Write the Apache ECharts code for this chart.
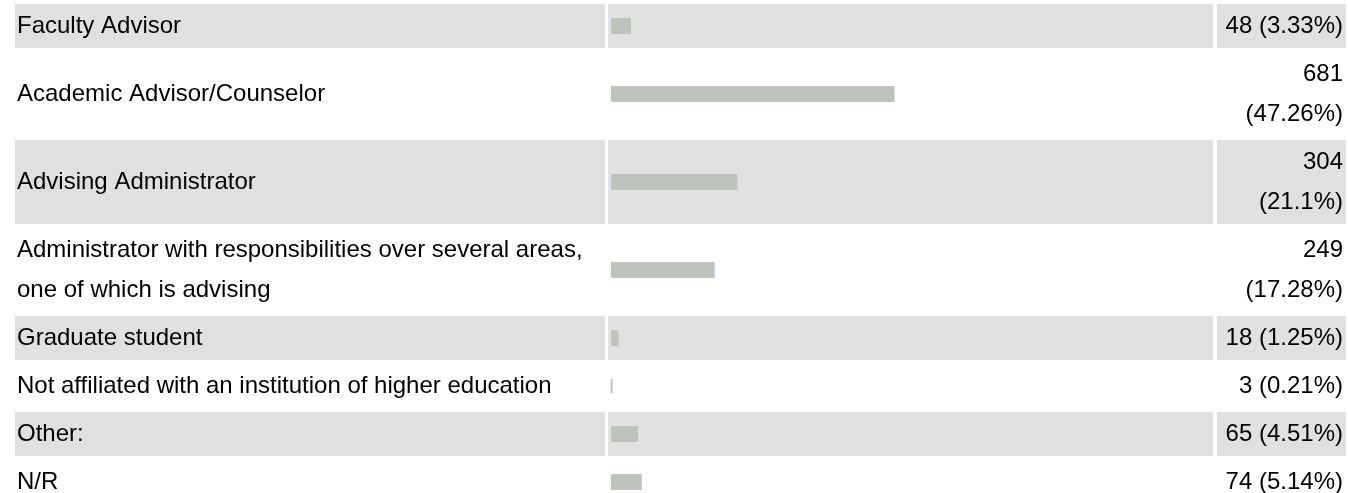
<!DOCTYPE html>
<html>
<head>
<meta charset="utf-8">
<script src="https://cdn.jsdelivr.net/npm/echarts@6/dist/echarts.min.js"></script>
<style>
    html, body { margin: 0; padding: 0; background: #fff; overflow: hidden; }
    /* taller than the window so the last row is not squeezed */
    #chart { width: 1348px; height: 520px; }
</style>
</head>
<body>
<div id="chart"></div>
<script>
// data
const categories = [
    'Faculty Advisor',
    'Academic Advisor/Counselor',
    'Advising Administrator',
    'Administrator with responsibilities over several areas, one of which is advising',
    'Graduate student',
    'Not affiliated with an institution of higher education',
    'Other:',
    'N/R'
]
const counts = [48, 681, 304, 249, 18, 3, 65, 74]
const percents = [3.33, 47.26, 21.1, 17.28, 1.25, 0.21, 4.51, 5.14]

// layout
const fontFamily = '"Liberation Sans", Arial, sans-serif'
const fontSize = 24
const lineHeight = 40
const labelCell = [15, 605]
const barCell = [608, 1213]
const valueCell = [1217, 1346]
const barLeft = 611
const barSpan = 600
const textLeft = 17
const textRight = 1343
const labelWrap = 585
const valueWrap = 126
const rowGap = 4

const ctx = document.createElement('canvas').getContext('2d')
ctx.font = fontSize + 'px ' + fontFamily

// break a text at spaces so each line fits in maxWidth
function wrapText (text, maxWidth) {
    const words = text.split(' ')
    const out = []
    let line = ''
    words.forEach(function (w) {
        const test = line ? line + ' ' + w : w
        if (line && ctx.measureText(test).width > maxWidth) {
            out.push(line)
            line = w
        } else {
            line = test
        }
    })
    out.push(line)
    return out
}

const valueTexts = counts.map(function (c, i) { return c + ' (' + percents[i] + '%)' })

const chart = echarts.init(document.getElementById('chart'))

const grid = []
const xAxis = []
const yAxis = []
const series = []
const graphic = []

let rowTop = 4
categories.forEach(function (name, idx) {
    const nameLines = wrapText(name, labelWrap)
    const valueLines = wrapText(valueTexts[idx], valueWrap)
    const h = Math.max(nameLines.length, valueLines.length) * lineHeight + 4

    // striped rows
    if (idx % 2 === 0) {
        [labelCell, barCell, valueCell].forEach(function (cell) {
            graphic.push({
                type: 'rect',
                z: -10,
                silent: true,
                shape: { x: cell[0], y: rowTop, width: cell[1] - cell[0], height: h },
                style: { fill: '#e0e0e0' }
            })
        })
    }

    grid.push({
        left: barLeft,
        width: barSpan,
        top: rowTop,
        height: h
    })

    xAxis.push({
        type: 'value',
        gridIndex: idx,
        min: 0,
        max: 100,
        show: false
    })

    // left: answer text
    yAxis.push({
        type: 'category',
        gridIndex: idx,
        data: [nameLines.join('\n')],
        axisLine: { show: false },
        axisTick: { show: false },
        splitLine: { show: false },
        axisLabel: {
            align: 'left',
            margin: barLeft - textLeft,
            lineHeight: lineHeight,
            fontSize: fontSize,
            fontFamily: fontFamily,
            color: '#000'
        }
    })
    // right: count (percent)
    yAxis.push({
        type: 'category',
        gridIndex: idx,
        position: 'right',
        data: [valueLines.join('\n')],
        axisLine: { show: false },
        axisTick: { show: false },
        splitLine: { show: false },
        axisLabel: {
            align: 'right',
            margin: textRight - (barLeft + barSpan),
            lineHeight: lineHeight,
            fontSize: fontSize,
            fontFamily: fontFamily,
            color: '#000'
        }
    })

    series.push({
        type: 'bar',
        xAxisIndex: idx,
        yAxisIndex: idx * 2,
        data: [percents[idx]],
        barWidth: 16,
        silent: true,
        itemStyle: {
            color: '#bec4bc',
            borderColor: '#bec4bc',
            borderWidth: 2
        }
    })

    rowTop += h + rowGap
})

chart.setOption({
    animation: false,
    graphic: graphic,
    grid: grid,
    xAxis: xAxis,
    yAxis: yAxis,
    series: series
})
</script>
</body>
</html>
